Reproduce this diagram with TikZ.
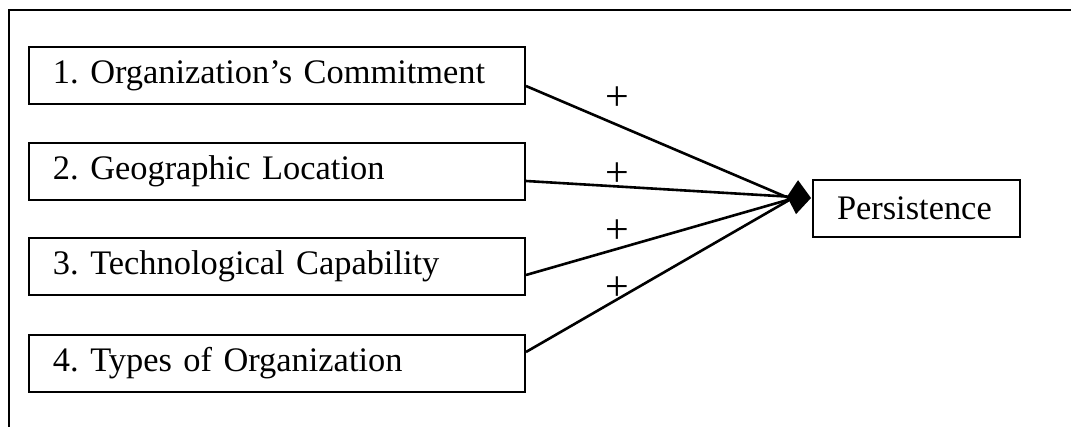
\documentclass[tikz,border=0pt]{standalone}
\usepackage{fontspec}
\setmainfont{Liberation Serif}
\usetikzlibrary{arrows.meta, positioning}

\begin{document}
\frenchspacing
\begin{tikzpicture}[x=0.5pt, y=-0.5pt, line width=1pt,
  font=\fontsize{17.2}{20}\selectfont,
  factor/.style={draw, minimum height=28.5pt, text width=224pt, inner xsep=12pt, align=left},
  outcome/.style={draw, minimum height=28.5pt, text width=79.5pt, inner xsep=12pt, align=left},
  plus/.style={inner sep=0pt, font=\fontsize{21}{24}\selectfont},
  link/.style={line width=1.3pt}]
  \useasboundingbox (0,0) rectangle (1071,427);
  % frame, cut off on the right and below
  \draw (1071,10) -- (9,10) -- (9,427);
  % the four factors
  \node[factor] (commit) at (277,75.5) {1. Organization's Commitment};
  \node[factor] (geo) at (277,171.5) {2. Geographic Location};
  \node[factor] (tech) at (277,266.5) {3. Technological Capability};
  \node[factor] (types) at (277,363.5) {4. Types of Organization};
  % outcome
  \node[outcome] (persist) at (916.5,208.5) {Persistence};
  \coordinate (hub) at (791,199);
  % links into persistence
  \draw[link] ([yshift=-5.25pt]commit.east) -- (hub);
  \draw[link, -{Kite[length=12pt, width=17pt, inset=5pt]}]
    ([yshift=-4.75pt]geo.east) -- ([xshift=-0.5pt, yshift=5.25pt]persist.west);
  \draw[link] ([yshift=-4.25pt]tech.east) -- (hub);
  \draw[link] ([yshift=5.75pt]types.east) -- (hub);
  % signs
  \node[plus] (s1) at (617,99) {+};
  \node[plus] (s2) at (617,175) {+};
  \node[plus] (s3) at (617,232) {+};
  \node[plus] (s4) at (617,289) {+};
\end{tikzpicture}
\end{document}
